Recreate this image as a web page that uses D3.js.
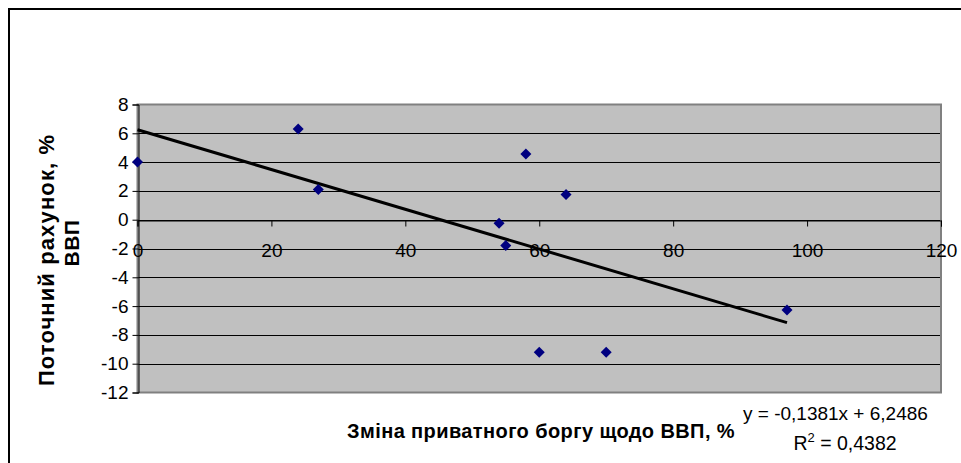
<!DOCTYPE html>
<html>
<head>
<meta charset="utf-8">
<script src="https://cdn.jsdelivr.net/npm/d3@7"></script>
<style>
  html, body { margin: 0; padding: 0; background: #fff; }
  svg { display: block; font-family: Arial, "Liberation Sans", sans-serif; }
</style>
</head>
<body>
<svg id="chart" width="961" height="463"></svg>
<script>
// ---- data ----
const xValues = [0, 24, 27, 54, 55, 58, 60, 64, 70, 97];
const yValues = [4, 6.3, 2.1, -0.25, -1.8, 4.57, -9.2, 1.75, -9.2, -6.27];
const xTicks = [0, 20, 40, 60, 80, 100, 120];
const yTicks = [8, 6, 4, 2, 0, -2, -4, -6, -8, -10, -12];
const trendSlope = -0.1381;
const trendIntercept = 6.2486;
const trendRange = [0, 97];
const xTitle = "Зміна приватного боргу щодо ВВП, %";
const yTitleLines = ["Поточний рахунок, %", "ВВП"];
const equationText = "y = -0,1381x + 6,2486";
const r2Value = "0,4382";

// ---- layout ----
const svg = d3.select("#chart");
const plot = { left: 137.5, right: 941, top: 104.5, bottom: 392.5 };

const x = d3.scaleLinear().domain([0, 120]).range([plot.left, plot.right]);
const y = d3.scaleLinear().domain([-12, 8]).range([plot.bottom, plot.top]);

// outer chart border
svg.append("rect")
  .attr("x", 9).attr("y", 9).attr("width", 980).attr("height", 480)
  .attr("fill", "#fff").attr("stroke", "#000").attr("stroke-width", 2);

// plot area
svg.append("rect")
  .attr("x", plot.left).attr("y", plot.top)
  .attr("width", plot.right - plot.left).attr("height", plot.bottom - plot.top)
  .attr("fill", "#c0c0c0");

// gridlines
svg.append("g").selectAll("line").data(yTicks.filter(d => d !== 8 && d !== -12)).join("line")
  .attr("x1", plot.left).attr("x2", plot.right)
  .attr("y1", d => Math.round(y(d)) + 0.5).attr("y2", d => Math.round(y(d)) + 0.5)
  .attr("stroke", "#000").attr("stroke-width", 1);

// plot border
svg.append("rect")
  .attr("x", plot.left).attr("y", plot.top)
  .attr("width", plot.right - plot.left).attr("height", plot.bottom - plot.top)
  .attr("fill", "none").attr("stroke", "#808080").attr("stroke-width", 2);

const fontFam = "Arial, 'Liberation Sans', sans-serif";

// y axis (at x = 0)
const yAxis = d3.axisLeft(y).tickValues(yTicks).tickSize(6).tickPadding(4)
  .tickFormat(d => String(d));
const gy = svg.append("g").attr("transform", `translate(${Math.round(x(0)) + 0.5},0)`).call(yAxis);
gy.select(".domain").attr("stroke", "#000");
gy.selectAll(".tick line").attr("stroke", "#000");
gy.selectAll(".tick text").attr("font-size", 19).attr("fill", "#000").attr("font-family", fontFam);

// x axis (at y = 0)
const xAxis = d3.axisBottom(x).tickValues(xTicks).tickSize(6).tickPadding(17)
  .tickFormat(d => String(d));
const gx = svg.append("g").attr("transform", `translate(0,${Math.round(y(0)) + 0.5})`).call(xAxis);
gx.select(".domain").attr("stroke", "#000");
gx.selectAll(".tick line").attr("stroke", "#000");
gx.selectAll(".tick text").attr("font-size", 19).attr("fill", "#000").attr("font-family", fontFam);

// trendline
svg.append("line")
  .attr("x1", x(trendRange[0])).attr("y1", y(trendIntercept + trendSlope * trendRange[0]))
  .attr("x2", x(trendRange[1])).attr("y2", y(trendIntercept + trendSlope * trendRange[1]))
  .attr("stroke", "#000").attr("stroke-width", 3);

// markers (diamonds)
const pts = xValues.map((v, i) => ({ x: v, y: yValues[i] }));
const r = 5.5;
svg.append("g").selectAll("path").data(pts).join("path")
  .attr("d", d => {
    const cx = x(d.x), cy = y(d.y);
    return `M${cx},${cy - r}L${cx + r},${cy}L${cx},${cy + r}L${cx - r},${cy}Z`;
  })
  .attr("fill", "#000080");

// axis titles
svg.append("text")
  .attr("x", 735).attr("y", 438)
  .attr("text-anchor", "end")
  .attr("font-size", 20).attr("font-weight", "bold")
  .attr("letter-spacing", 0.4)
  .text(xTitle);

svg.append("text")
  .attr("transform", "translate(54,260) rotate(-90)")
  .attr("text-anchor", "middle")
  .attr("font-size", 22).attr("font-weight", "bold")
  .attr("letter-spacing", 1.1)
  .text(yTitleLines[0]);
svg.append("text")
  .attr("transform", "translate(79,243) rotate(-90)")
  .attr("text-anchor", "middle")
  .attr("font-size", 21).attr("font-weight", "bold")
  .attr("letter-spacing", 0.5)
  .text(yTitleLines[1]);

// trendline equation
svg.append("text")
  .attr("x", 743).attr("y", 420)
  .attr("font-size", 19)
  .text(equationText);
const r2 = svg.append("text")
  .attr("x", 845).attr("y", 450)
  .attr("text-anchor", "middle")
  .attr("font-size", 19.5);
r2.append("tspan").text("R");
r2.append("tspan").attr("dy", -8).attr("font-size", 13).text("2");
r2.append("tspan").attr("dy", 8).text(" = " + r2Value);
</script>
</body>
</html>
